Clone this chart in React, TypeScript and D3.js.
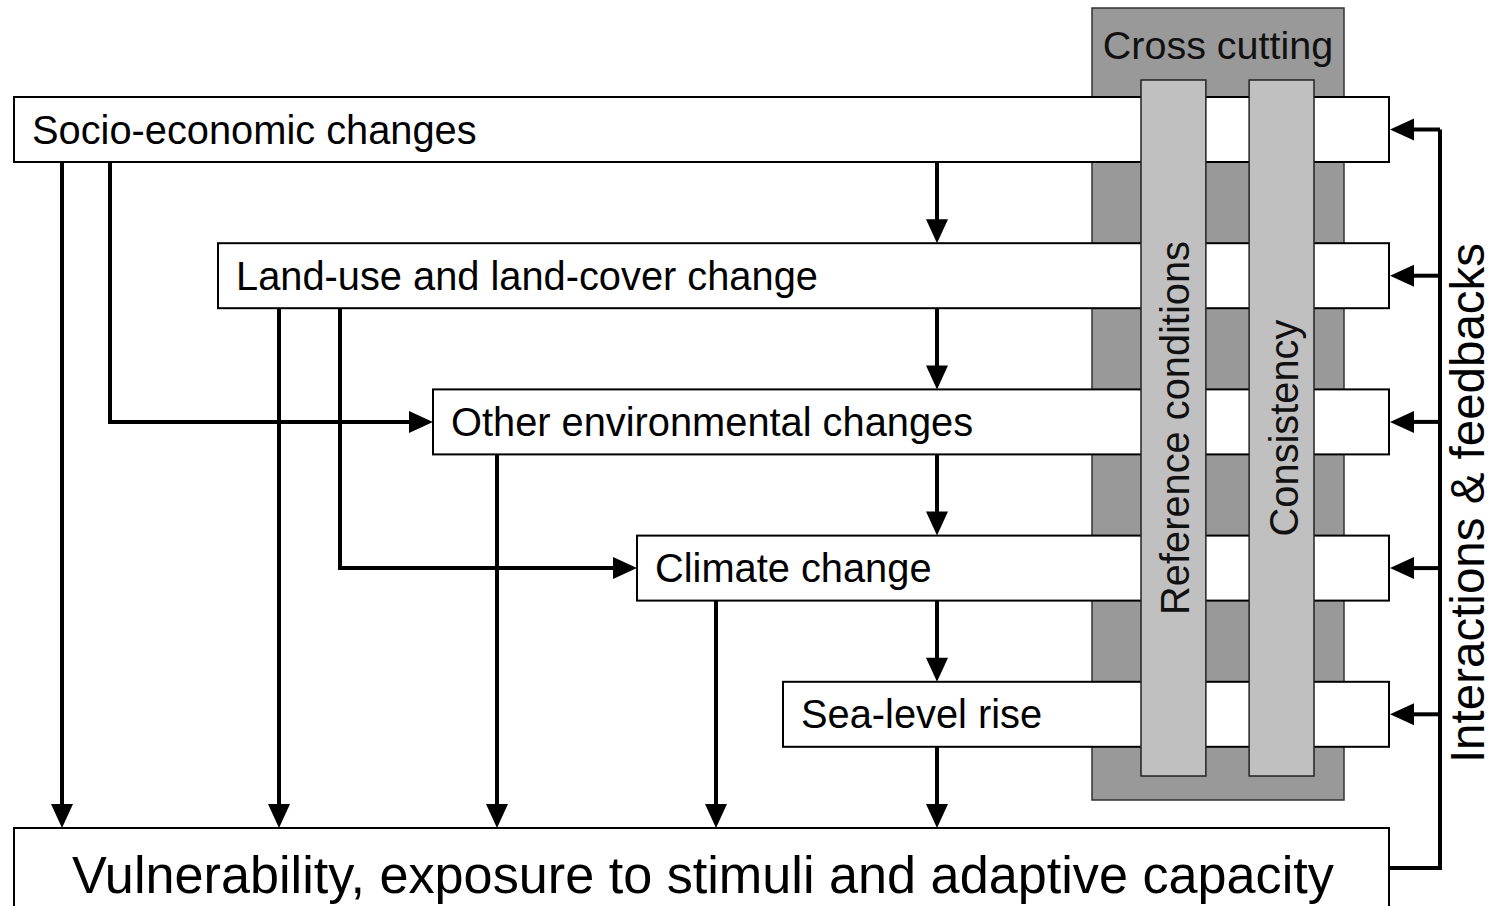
import React from "react";
import * as d3 from "d3";

// box labels, top to bottom
const rows = [
  "Socio-economic changes",
  "Land-use and land-cover change",
  "Other environmental changes",
  "Climate change",
  "Sea-level rise",
  "Vulnerability, exposure to stimuli and adaptive capacity",
];
// left edge of each box
const rowStart = [14, 218, 433, 637, 783, 14];
const crossLabels = ["Reference conditions", "Consistency"];
const crossTitle = "Cross cutting";
const feedbackLabel = "Interactions & feedbacks";
// side links: from box, to box, x of the vertical run
const sideLinks = [
  { from: 0, to: 5, x: 62 },
  { from: 0, to: 2, x: 110 },
  { from: 1, to: 5, x: 279 },
  { from: 1, to: 3, x: 340 },
  { from: 2, to: 5, x: 497 },
  { from: 3, to: 5, x: 716 },
];
const chainX = 937;

const W = 1488, H = 906;
const FONT = "'Liberation Sans', Arial, sans-serif";

export default function App() {
  const y = d3.scaleLinear().domain([0, rows.length - 1]).range([97, 828]);
  const boxH = 65;
  const right = 1389;
  const last = rows.length - 1;
  const mid = (i: number) => y(i) + boxH / 2;

  const crossX = d3.scaleBand<string>().domain(crossLabels).range([1141, 1314]).paddingInner(0.4);
  const line = d3.line();

  // arrow head path, tip at (x,y)
  const head = (x: number, yy: number, dir: string) => {
    const L = 24, hw = 11;
    if (dir === "down") return `M${x},${yy}L${x - hw},${yy - L}L${x + hw},${yy - L}Z`;
    if (dir === "left") return `M${x},${yy}L${x + L},${yy - hw}L${x + L},${yy + hw}Z`;
    return `M${x},${yy}L${x - L},${yy - hw}L${x - L},${yy + hw}Z`;
  };

  const shafts: string[] = [];
  const heads: string[] = [];

  // chain arrows
  for (let i = 0; i < last; i++) {
    const y0 = y(i) + boxH, y1 = y(i + 1);
    shafts.push(line([[chainX, y0], [chainX, y1 - 22]])!);
    heads.push(head(chainX, y1, "down"));
  }
  // side links
  sideLinks.forEach((l) => {
    const y0 = y(l.from) + boxH;
    if (l.to === last) {
      shafts.push(line([[l.x, y0], [l.x, y(l.to) - 22]])!);
      heads.push(head(l.x, y(l.to), "down"));
    } else {
      const ym = mid(l.to);
      shafts.push(line([[l.x, y0], [l.x, ym], [rowStart[l.to] - 22, ym]])!);
      heads.push(head(rowStart[l.to], ym, "right"));
    }
  });
  // feedback loop
  const fbX = 1440;
  const vulnY = 868;
  shafts.push(line([[right, vulnY], [fbX, vulnY], [fbX, mid(0)]])!);
  for (let i = 0; i < last; i++) {
    shafts.push(line([[fbX, mid(i)], [right + 20, mid(i)]])!);
    heads.push(head(right + 1, mid(i), "left"));
  }

  return (
    <svg width={W} height={H} style={{ position: "absolute", left: 0, top: 0, display: "block", background: "#fff" }}
      fontFamily={FONT}>
      {/* cross cutting background */}
      <rect x={1092} y={8} width={252} height={792} fill="#999999" stroke="#333" strokeWidth={1.5} />
      <text x={1218} y={59} textAnchor="middle" fontSize={39.5} fill="#111">{crossTitle}</text>

      {rows.map((r, i) => (
        <g key={r}>
          <rect x={rowStart[i]} y={y(i)} width={right - rowStart[i]} height={i === last ? 120 : boxH}
            fill="#fff" stroke="#000" strokeWidth={2} />
          <text x={rowStart[i] + (i === last ? 58 : 18)} y={i === last ? 893 : mid(i) + 14}
            fontSize={i === last ? 52.2 : 39.8} fill="#000">{r}</text>
        </g>
      ))}

      {crossLabels.map((c) => {
        const x0 = crossX(c)!;
        const bw = crossX.bandwidth();
        return (
          <g key={c}>
            <rect x={x0} y={80} width={bw} height={696} fill="#c0c0c0" stroke="#222" strokeWidth={1.5} />
            <text transform={`translate(${x0 + bw / 2 + 16},${428}) rotate(-90)`} textAnchor="middle"
              fontSize={39.8} fill="#111">{c}</text>
          </g>
        );
      })}

      {shafts.map((d, i) => (
        <path key={"s" + i} d={d} fill="none" stroke="#000" strokeWidth={4} />
      ))}
      {heads.map((d, i) => (
        <path key={"h" + i} d={d} fill="#000" />
      ))}

      <text transform={`translate(1484,503) rotate(-90)`} textAnchor="middle" fontSize={47.5} fill="#000">
        {feedbackLabel}
      </text>
    </svg>
  );
}
